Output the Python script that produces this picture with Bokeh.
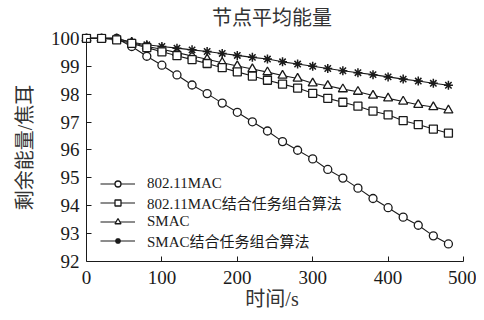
from bokeh.plotting import figure
from bokeh.models import Range1d, LinearAxis, Legend, LegendItem, FixedTicker
from bokeh.embed import file_html
from bokeh.resources import INLINE

# ---- data ----
time_s = [0, 20, 40, 60, 80, 100, 120, 140, 160, 180, 200, 220, 240,
          260, 280, 300, 320, 340, 360, 380, 400, 420, 440, 460, 480]
mac80211 = [100, 100, 100, 99.71, 99.36, 99.04, 98.69, 98.33, 98.02, 97.68, 97.35, 97.01, 96.68,
            96.30, 95.99, 95.68, 95.30, 94.99, 94.63, 94.26, 93.93, 93.59, 93.30, 92.92, 92.63]
mac80211_task = [100, 100, 99.95, 99.82, 99.67, 99.52, 99.38, 99.24, 99.10, 98.95, 98.80, 98.65, 98.50,
                 98.36, 98.22, 98.03, 97.85, 97.71, 97.57, 97.39, 97.26, 97.05, 96.91, 96.75, 96.60]
smac = [100, 100, 100, 99.85, 99.71, 99.61, 99.49, 99.37, 99.25, 99.13, 99.01, 98.90, 98.79,
        98.67, 98.56, 98.39, 98.30, 98.18, 98.09, 97.95, 97.85, 97.74, 97.62, 97.54, 97.42]
smac_task = [100, 100, 100, 99.86, 99.77, 99.71, 99.65, 99.59, 99.53, 99.46, 99.39, 99.32, 99.26,
             99.16, 99.08, 99.00, 98.92, 98.84, 98.77, 98.70, 98.62, 98.54, 98.47, 98.39, 98.32]
labels = ["802.11MAC", "802.11MAC结合任务组合算法", "SMAC", "SMAC结合任务组合算法"]
x_ticks = [0, 100, 200, 300, 400, 500]
y_ticks = [92, 93, 94, 95, 96, 97, 98, 99, 100]

FONT = "Liberation Serif, Noto Sans CJK SC"
TXT = "#1a1a1a"

p = figure(width=476, height=312,
           x_range=Range1d(-7.95, 500), y_range=Range1d(92, 100.176),
           output_backend="svg", toolbar_location=None,
           x_axis_location=None, y_axis_location=None,
           min_border_left=80, min_border_right=13,
           min_border_top=30, min_border_bottom=50,
           title="节点平均能量")
p.outline_line_color = None
p.grid.visible = False
p.title.align = "center"
p.title.text_font = FONT
p.title.text_font_size = "20px"
p.title.text_font_style = "normal"
p.title.text_color = "#333333"
p.title.standoff = 9

def style_axis(ax):
    ax.axis_line_color = TXT
    ax.major_tick_line_color = TXT
    ax.major_tick_in = 5
    ax.major_tick_out = 0
    ax.minor_tick_line_color = None
    ax.major_label_text_font = FONT
    ax.major_label_text_font_size = "19px"
    ax.major_label_text_color = TXT
    ax.axis_label_text_font = FONT
    ax.axis_label_text_font_size = "20px"
    ax.axis_label_text_font_style = "normal"
    ax.axis_label_text_color = "#333333"

# left axis: labels only (at frame edge)
ylab = LinearAxis(ticker=FixedTicker(ticks=y_ticks), axis_label="剩余能量/焦耳")
style_axis(ylab)
ylab.axis_line_color = None
ylab.major_tick_line_color = None
ylab.major_label_standoff = 1
ylab.axis_label_standoff = 12
p.add_layout(ylab, "left")

# left axis: spine and ticks at x = 0
yspine = LinearAxis(fixed_location=0, bounds=(92, 100), ticker=FixedTicker(ticks=y_ticks),
                    major_label_overrides={t: "" for t in y_ticks})
style_axis(yspine)
yspine.major_label_standoff = 0
p.add_layout(yspine, "left")

xaxis = LinearAxis(bounds=(0, 500), ticker=FixedTicker(ticks=x_ticks), axis_label="时间/s")
style_axis(xaxis)
xaxis.major_label_standoff = 9
xaxis.axis_label_standoff = 1
p.add_layout(xaxis, "below")

col = "#1a1a1a"
l1 = p.line(time_s, mac80211, line_color=col, line_width=1.1)
m1 = p.scatter(time_s, mac80211, marker="circle", size=8, fill_color="white", line_color=col, line_width=1.3)
l3 = p.line(time_s, smac, line_color=col, line_width=1.1)
m3 = p.scatter(time_s, smac, marker="triangle", size=9, fill_color="white", line_color=col, line_width=1.3)
l4 = p.line(time_s, smac_task, line_color=col, line_width=1.1)
m4 = p.scatter(time_s, smac_task, marker="asterisk", size=9, line_color=col, line_width=1.5)
l2 = p.line(time_s, mac80211_task, line_color=col, line_width=1.1)
m2 = p.scatter(time_s, mac80211_task, marker="square", size=8, fill_color="white", line_color=col, line_width=1.3)

legend = Legend(items=[LegendItem(label=labels[0], renderers=[l1, m1]),
                       LegendItem(label=labels[1], renderers=[l2, m2]),
                       LegendItem(label=labels[2], renderers=[l3, m3]),
                       LegendItem(label=labels[3], renderers=[l4, m4])],
                location=(20, 10), padding=0, margin=0, spacing=0,
                glyph_width=35, glyph_height=15, label_height=15, label_standoff=12,
                border_line_color=None, background_fill_alpha=0,
                label_text_font=FONT, label_text_font_size="15px", label_text_color=TXT,
                label_text_line_height=0.9)
p.add_layout(legend)

open("out.html", "w").write(file_html(p, INLINE))
